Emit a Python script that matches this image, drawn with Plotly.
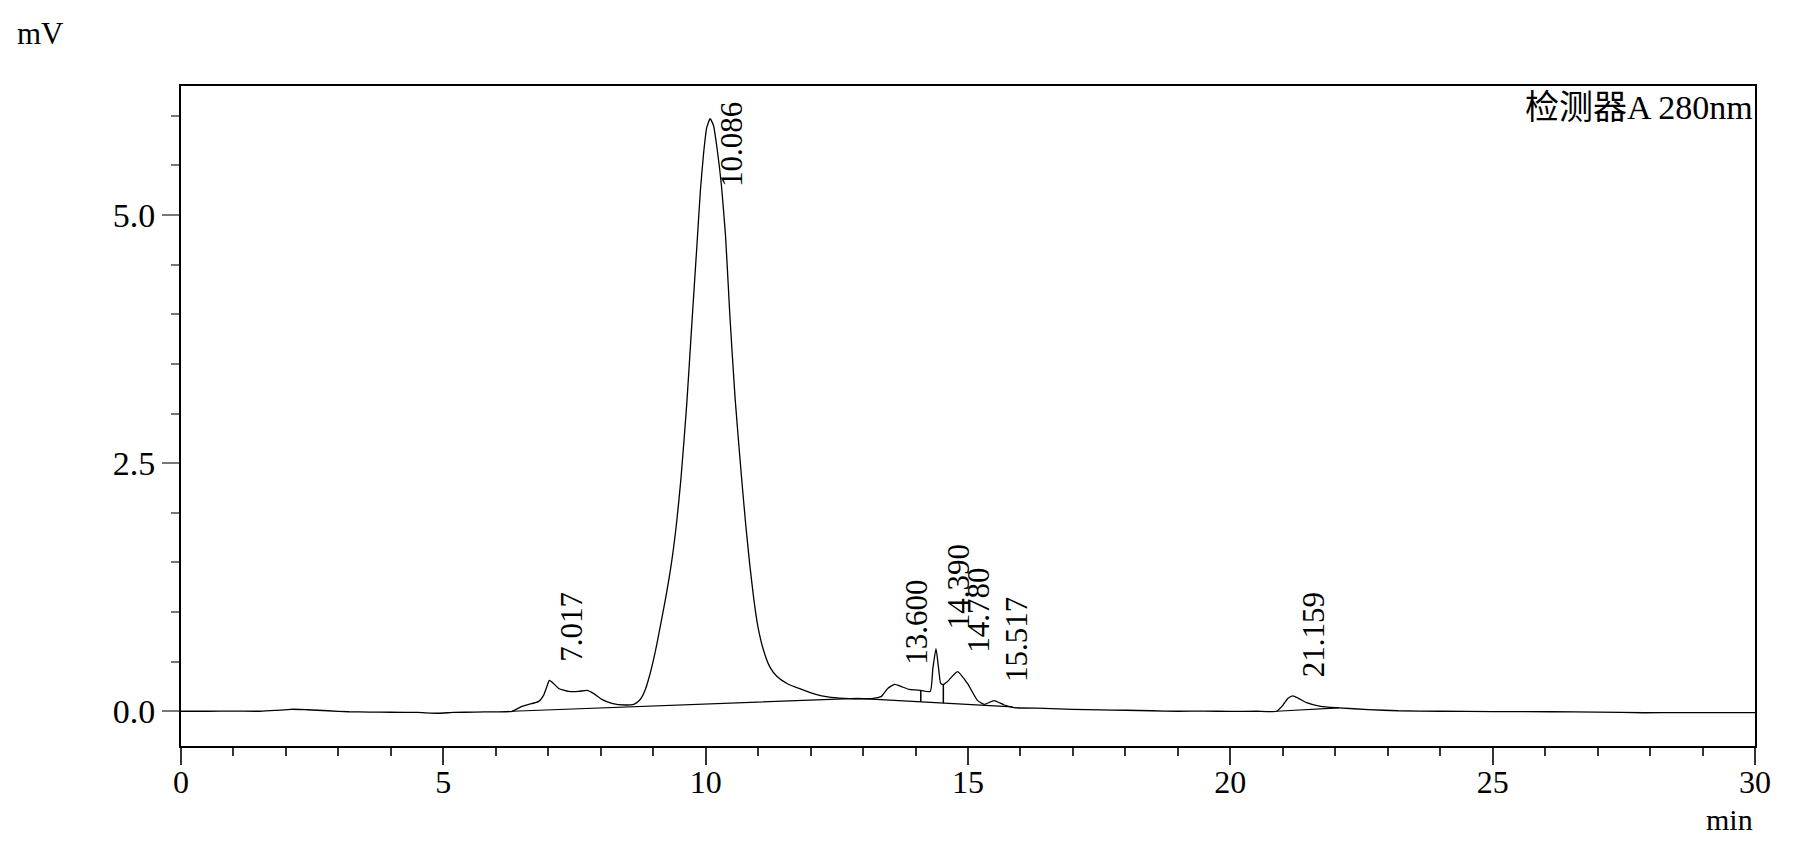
import plotly.graph_objects as go

#
# chromatogram, detector A 280nm
#

# signal (min, mV)
time_min = [0.0, 0.5, 1.0, 1.5, 1.8, 2.1, 2.4, 2.8, 3.2, 3.6, 4.0, 4.5, 4.9, 5.2, 5.6, 6.0,
            6.31, 6.5, 6.63, 6.82, 6.91, 6.98, 7.02, 7.10, 7.20, 7.39, 7.58, 7.74, 7.86, 8.02,
            8.21, 8.47, 8.63, 8.72, 8.78, 8.85, 8.91, 8.97, 9.04, 9.10, 9.23, 9.35, 9.45, 9.53,
            9.64, 9.73, 9.84, 9.90, 9.96, 10.02, 10.086, 10.15, 10.22, 10.30, 10.38, 10.46,
            10.56, 10.68, 10.76, 10.84, 10.92, 11.0, 11.1, 11.22, 11.36, 11.55, 11.83, 12.1,
            12.33, 12.65, 12.97, 13.2, 13.35, 13.47, 13.6, 13.72, 13.88, 14.1, 14.28, 14.33,
            14.39, 14.44, 14.48, 14.53, 14.61, 14.8, 14.99, 15.18, 15.31, 15.5, 15.69, 15.88,
            16.45, 17.0, 17.52, 18.0, 18.5, 19.0, 19.5, 20.0, 20.5, 20.88, 21.0, 21.1, 21.19,
            21.3, 21.44, 21.72, 22.07, 22.63, 23.2, 24.0, 25.0, 26.1, 27.0, 27.9, 28.5, 29.2, 30.0]
signal_mv = [0.0, 0.0, 0.002, 0.0, 0.008, 0.02, 0.015, 0.005, -0.005, -0.008, -0.01, -0.012, -0.02, -0.012, -0.008, -0.006,
             0.0, 0.05, 0.07, 0.10, 0.16, 0.26, 0.31, 0.28, 0.23, 0.20, 0.20, 0.21, 0.18, 0.12,
             0.08, 0.063, 0.07, 0.10, 0.14, 0.22, 0.32, 0.44, 0.60, 0.76, 1.12, 1.50, 1.92, 2.35,
             3.10, 3.85, 4.75, 5.25, 5.62, 5.88, 5.97, 5.90, 5.66, 5.30, 4.78, 4.00,
             3.16, 2.38, 1.90, 1.48, 1.12, 0.84, 0.62, 0.45, 0.35, 0.28, 0.22, 0.17,
             0.145, 0.13, 0.125, 0.13, 0.15, 0.23, 0.27, 0.25, 0.22, 0.21, 0.20, 0.43,
             0.63, 0.43, 0.28, 0.27, 0.30, 0.40, 0.28, 0.11, 0.07, 0.107, 0.063, 0.037,
             0.03, 0.02, 0.013, 0.01, 0.005, 0.0, 0.002, -0.002, 0.0, 0.0, 0.06, 0.13, 0.155,
             0.13, 0.09, 0.05, 0.035, 0.017, 0.005, 0.0, -0.003, -0.005, -0.008, -0.015, -0.013, -0.014, -0.013]

# integration baselines (None splits segments)
base_t = [6.31, 12.9, 15.85, None, 20.88, 22.07]
base_mv = [0.0, 0.13, 0.045, None, 0.0, 0.035]

# peak split (drop) lines
drop_t = [14.10, 14.53]
drop_top = [0.21, 0.27]
drop_bottom = [0.094, 0.081]

# peak labels
peak_times = [7.017, 10.086, 13.600, 14.390, 14.780, 15.517, 21.159]
peak_labels = ["7.017", "10.086", "13.600", "14.390", "14.780", "15.517", "21.159"]
label_bottom = [0.48, 5.26, 0.45, 0.80, 0.57, 0.27, 0.32]

serif = "Liberation Serif, Times New Roman, serif"

fig = go.Figure()
fig.add_trace(go.Scatter(x=time_min, y=signal_mv, mode="lines",
                         line=dict(color="black", width=1.3, shape="spline", smoothing=0.5),
                         hoverinfo="skip"))
fig.add_trace(go.Scatter(x=base_t, y=base_mv, mode="lines",
                         line=dict(color="black", width=1.2), connectgaps=False,
                         hoverinfo="skip"))
drop_x = []
drop_y = []
for t, a, b in zip(drop_t, drop_top, drop_bottom):
    drop_x += [t, t, None]
    drop_y += [a, b, None]
fig.add_trace(go.Scatter(x=drop_x, y=drop_y, mode="lines",
                         line=dict(color="black", width=1.5), hoverinfo="skip"))

for t, txt, yb in zip(peak_times, peak_labels, label_bottom):
    fig.add_annotation(x=t, y=yb, text=txt, textangle=-90, showarrow=False,
                       xanchor="center", yanchor="bottom", xshift=22,
                       font=dict(family=serif, size=31, color="black"))

fig.add_annotation(x=1.0, y=1.0, xref="paper", yref="paper", text="检测器A 280nm",
                   showarrow=False, xanchor="right", yanchor="top", yshift=-1,
                   font=dict(family="Liberation Serif, Noto Sans CJK SC", size=34, color="black"))
fig.add_annotation(x=0, y=1.0, xref="paper", yref="paper", text="mV",
                   showarrow=False, xanchor="left", yanchor="middle",
                   xshift=-166, yshift=53,
                   font=dict(family=serif, size=31, color="black"))
fig.add_annotation(x=1.0, y=0, xref="paper", yref="paper", text="min",
                   showarrow=False, xanchor="right", yanchor="middle", yshift=-73,
                   font=dict(family=serif, size=30, color="black"))

fig.update_xaxes(range=[0, 30], tickmode="linear", tick0=0, dtick=5,
                 ticks="outside", ticklen=17, tickwidth=1.5, tickcolor="#333",
                 minor=dict(ticks="outside", dtick=1, tick0=0, ticklen=8, tickcolor="#333", tickwidth=1.5),
                 showline=True, linecolor="black", linewidth=2, mirror=True,
                 showgrid=False, zeroline=False, ticklabelstandoff=-10,
                 tickfont=dict(family=serif, size=32, color="black"))
fig.update_yaxes(range=[-0.35, 6.3], tickvals=[0, 2.5, 5.0], tickformat=".1f",
                 ticks="outside", ticklen=17, tickwidth=1.5, tickcolor="#777",
                 minor=dict(ticks="outside", dtick=0.5, tick0=0, ticklen=8, tickcolor="#777", tickwidth=1.5),
                 showline=True, linecolor="black", linewidth=2, mirror=True,
                 showgrid=False, zeroline=False,
                 tickfont=dict(family=serif, size=34, color="black"))

fig.update_layout(width=1798, height=858, showlegend=False,
                  margin=dict(l=181, r=43, t=86, b=112),
                  plot_bgcolor="white", paper_bgcolor="white")

# page body margin off so the figure sits at the window's corner
fig.write_html("out.html", config={"displayModeBar": False},
               post_script="document.body.style.margin='0px';")
